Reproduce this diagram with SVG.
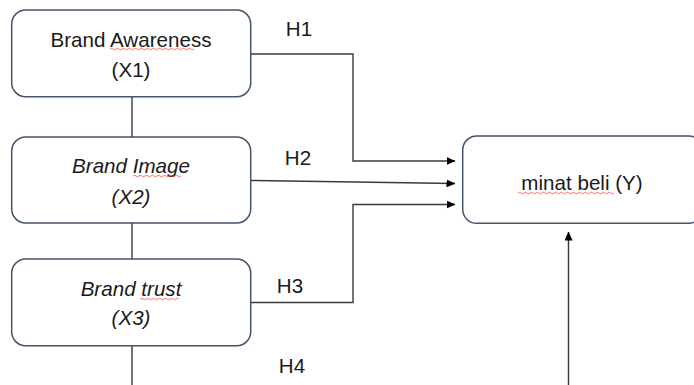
<svg xmlns="http://www.w3.org/2000/svg" width="694" height="385" viewBox="0 0 694 385">
<style>
.box{fill:#fff;stroke:#44546a;stroke-width:1.5}
.t{font-family:"Liberation Sans",Arial,sans-serif;font-size:20.6px;fill:#1a1a1a;text-anchor:middle}
.i{font-style:italic}
.c{fill:none;stroke:#3a3a3a;stroke-width:1.4}
.sq{fill:none;stroke:#e05050;stroke-width:0.8}
</style>
<defs>
<marker id="ah" markerWidth="9" markerHeight="8" refX="8.5" refY="4" orient="auto" markerUnits="userSpaceOnUse">
<path d="M0,0 L9,4 L0,8 Z" fill="#000"/>
</marker>
</defs>
<g id="connectors">
<line class="c" x1="132" y1="97" x2="132" y2="137"/>
<line class="c" x1="132" y1="223" x2="132" y2="259"/>
<line class="c" x1="132" y1="346" x2="132" y2="385"/>
<polyline class="c" points="251,54 353,54 353,161 455,161" marker-end="url(#ah)"/>
<line class="c" x1="251" y1="180.5" x2="455" y2="183.5" marker-end="url(#ah)"/>
<polyline class="c" points="251,302.5 353,302.5 353,204.5 455,204.5" marker-end="url(#ah)"/>
<line class="c" x1="568.5" y1="385" x2="568.5" y2="232" marker-end="url(#ah)"/>
<text class="t" x="299" y="36">H1</text>
<text class="t" x="298" y="165">H2</text>
<text class="t" x="290" y="293">H3</text>
<text class="t" x="292" y="373">H4</text>
</g>
<g id="x1">
<rect class="box" x="11.7" y="10" width="239" height="86.7" rx="14"/>
<text class="t" x="131" y="47">Brand Awareness</text>
<text class="t" x="131" y="77">(X1)</text>
<path class="sq" d="M110,49 q1.5,-1.5 3,0 t3,0 t3,0 t3,0 t3,0 t3,0 t3,0 t3,0 t3,0 t3,0 t3,0 t3,0 t3,0 t3,0 t3,0 t3,0 t3,0 t3,0 t3,0 t3,0 t3,0 t3,0 t3,0 t3,0 t3,0 t3,0 t3,0 t3,0"/>
</g>
<g id="x2">
<rect class="box" x="11.7" y="137" width="239" height="86" rx="14"/>
<text class="t i" x="131" y="173">Brand Image</text>
<text class="t i" x="131" y="204">(X2)</text>
<path class="sq" d="M133,176 q1.5,-1.5 3,0 t3,0 t3,0 t3,0 t3,0 t3,0 t3,0 t3,0 t3,0 t3,0 t3,0 t3,0 t3,0 t3,0 t3,0 t3,0"/>
</g>
<g id="x3">
<rect class="box" x="11.7" y="259" width="239" height="86.7" rx="14"/>
<text class="t i" x="131" y="296">Brand trust</text>
<text class="t i" x="131" y="325">(X3)</text>
<path class="sq" d="M140,299 q1.5,-1.5 3,0 t3,0 t3,0 t3,0 t3,0 t3,0 t3,0 t3,0 t3,0 t3,0 t3,0 t3,0 t3,0"/>
</g>
<g id="y">
<rect class="box" x="462.7" y="136" width="240" height="87.3" rx="14"/>
<text class="t" x="582" y="190">minat beli (Y)</text>
<path class="sq" d="M518,193 q1.5,-1.5 3,0 t3,0 t3,0 t3,0 t3,0 t3,0 t3,0 t3,0 t3,0 t3,0 t3,0 t3,0 t3,0 t3,0 t3,0 t3,0 t3,0 t3,0 t3,0 t3,0 t3,0 t3,0 t3,0 t3,0 t3,0 t3,0 t3,0 t3,0 t3,0 t3,0 t3,0 t3,0"/>
</g>
</svg>
